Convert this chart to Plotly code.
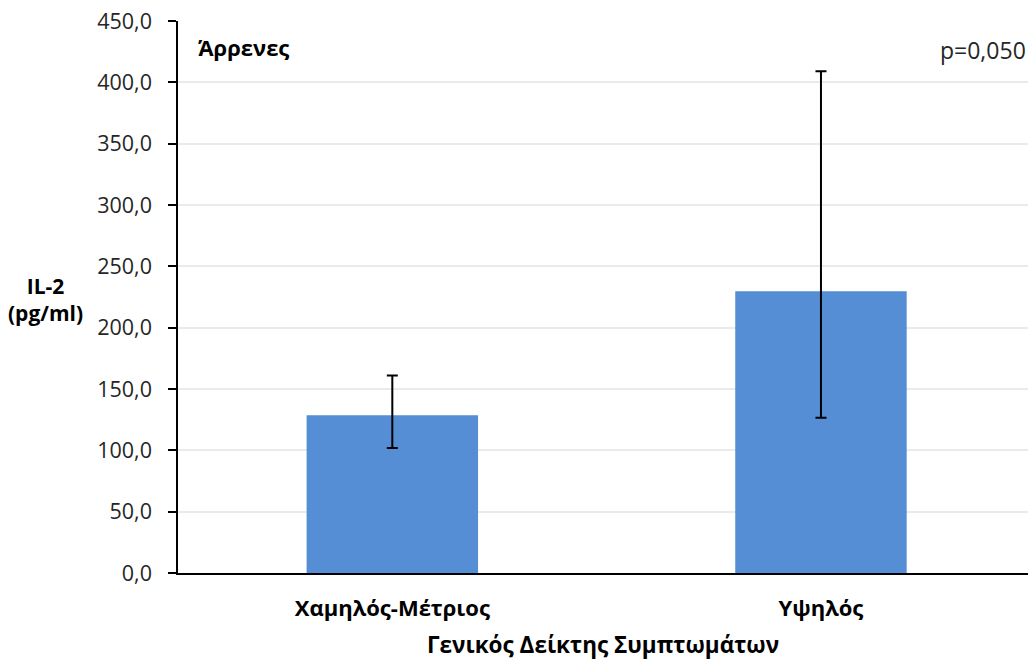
import plotly.graph_objects as go

# IL-2 concentration by general symptom index (males)
categories = ["Χαμηλός-Μέτριος", "Υψηλός"]
il2_mean = [128.5, 229.6]
err_plus = [32.6, 179.5]
err_minus = [26.6, 103.0]
y_ticks = [0, 50, 100, 150, 200, 250, 300, 350, 400, 450]

BAR_COLOR = "#558ED5"
FONT = "Open Sans"
TICK_FONT = dict(family=FONT, size=21.5, color="#262626")

fig = go.Figure(
    go.Bar(
        x=categories,
        y=il2_mean,
        width=0.4,
        marker=dict(color=BAR_COLOR, line=dict(width=0)),
        error_y=dict(
            type="data",
            symmetric=False,
            array=err_plus,
            arrayminus=err_minus,
            color="black",
            thickness=2,
            width=5.5,
        ),
    )
)

fig.update_layout(
    width=1028,
    height=660,
    margin=dict(l=178, r=0, t=21, b=87),
    paper_bgcolor="white",
    plot_bgcolor="white",
    separators=",.",
    showlegend=False,
    xaxis=dict(
        range=[-0.5, 1.483],
        showline=True,
        linecolor="black",
        linewidth=1.5,
        ticks="",
        showgrid=False,
        tickfont=dict(family=FONT, size=22, color="black", weight="bold"),
        ticklabelstandoff=15,
    ),
    yaxis=dict(
        range=[0, 450],
        tickvals=y_ticks,
        tickformat=".1f",
        showline=True,
        linecolor="black",
        linewidth=1.5,
        ticks="outside",
        ticklen=8,
        tickwidth=1.5,
        tickcolor="black",
        tickfont=TICK_FONT,
        ticklabelstandoff=12,
        showgrid=True,
        gridcolor="#EBEBEB",
        gridwidth=1.5,
        zeroline=False,
    ),
    annotations=[
        dict(
            text="<b>Άρρενες</b>", xref="paper", yref="paper",
            x=0.021, y=0.952, xanchor="left", yanchor="middle",
            showarrow=False, font=dict(family=FONT, size=22, color="black"),
        ),
        dict(
            text="p=0,050", xref="paper", yref="paper",
            x=1.0, y=0.947, xanchor="right", yanchor="middle",
            showarrow=False, font=dict(family=FONT, size=23, color="#262626"),
        ),
        dict(
            text="<b>IL-2<br>(pg/ml)</b>", xref="paper", yref="paper",
            x=-0.156, y=0.496, xanchor="center", yanchor="middle",
            showarrow=False, align="center",
            font=dict(family=FONT, size=21, color="black"),
        ),
        dict(
            text="<b>Γενικός Δείκτης Συμπτωμάτων</b>", xref="paper", yref="paper",
            x=0.5, y=-0.13, xanchor="center", yanchor="middle",
            showarrow=False, font=dict(family=FONT, size=22.5, color="black"),
        ),
    ],
)

fig.write_html("out.html")
